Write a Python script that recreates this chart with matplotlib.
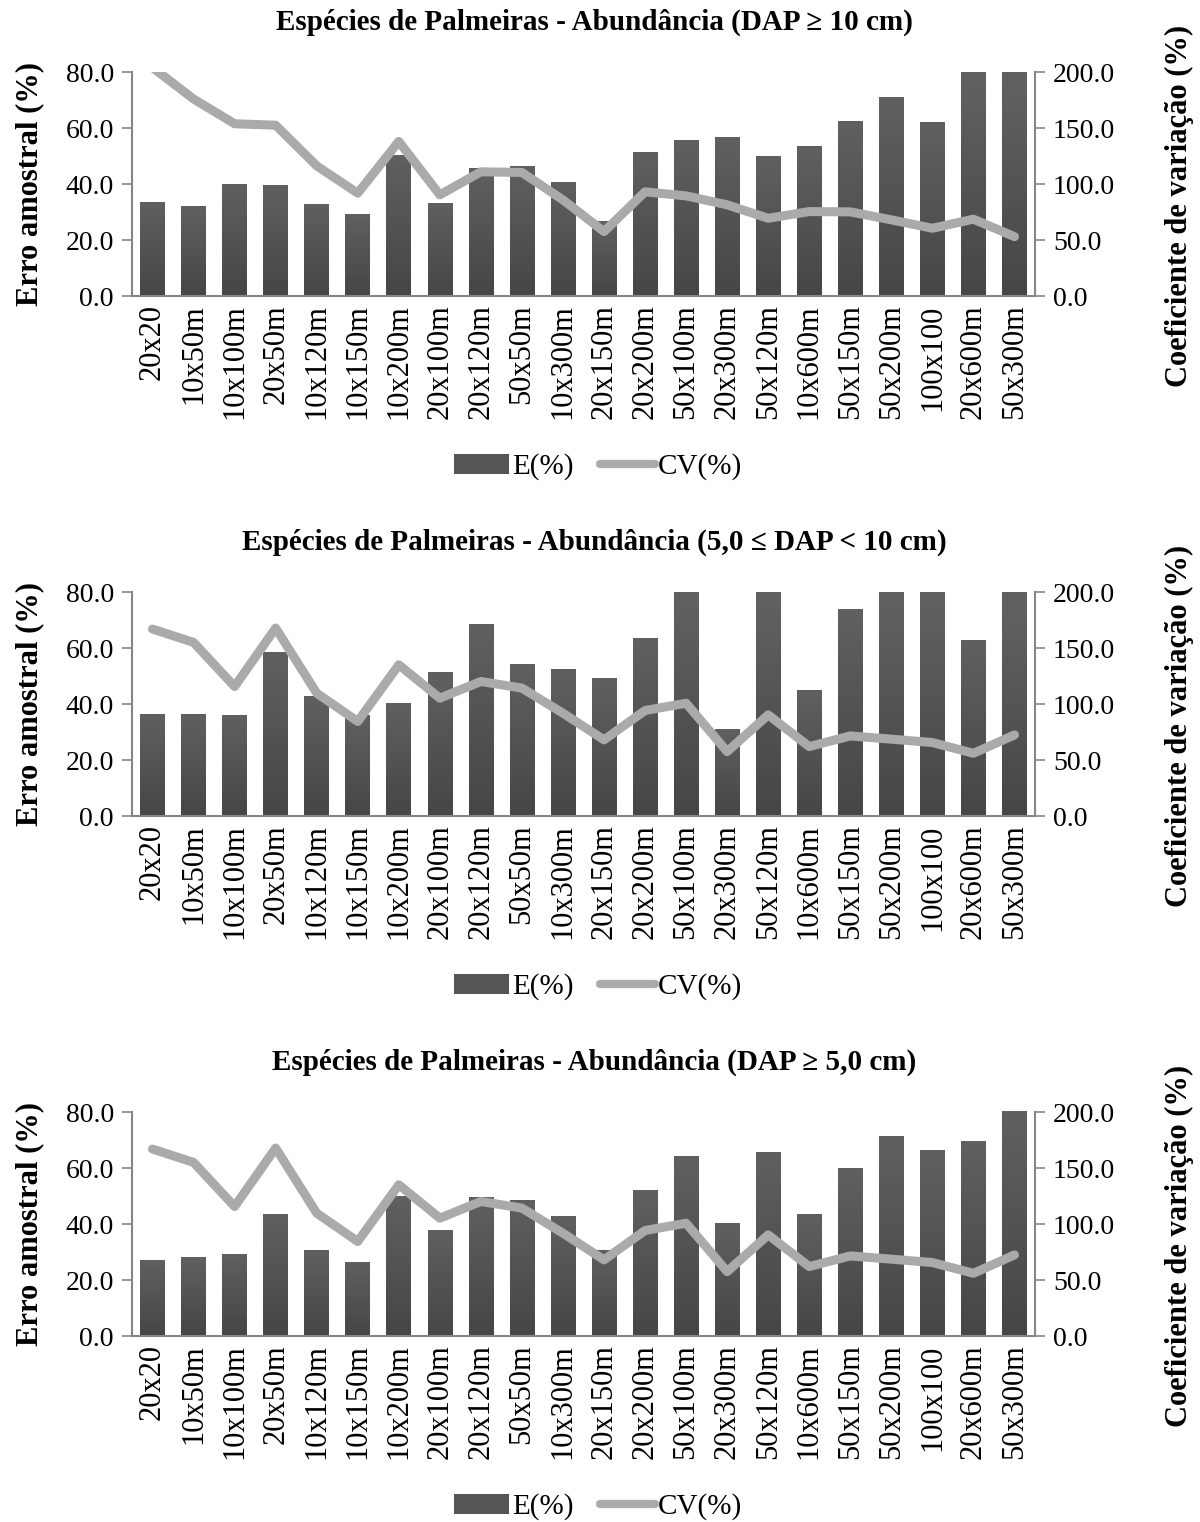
import numpy as np
import matplotlib.pyplot as plt
from matplotlib.patches import Patch
from matplotlib.lines import Line2D
from matplotlib.colors import LinearSegmentedColormap

plt.rcParams['font.family'] = ['Liberation Serif', 'DejaVu Serif']

categories = ['20x20', '10x50m', '10x100m', '20x50m', '10x120m', '10x150m',
              '10x200m', '20x100m', '20x120m', '50x50m', '10x300m', '20x150m',
              '20x200m', '50x100m', '20x300m', '50x120m', '10x600m', '50x150m',
              '50x200m', '100x100', '20x600m', '50x300m']

titles = ['Espécies de Palmeiras - Abundância (DAP ≥ 10 cm)',
          'Espécies de Palmeiras - Abundância (5,0 ≤ DAP < 10 cm)',
          'Espécies de Palmeiras - Abundância (DAP ≥ 5,0 cm)']

# E(%) - erro amostral (left axis)
e_dap10 = [33.6, 32.2, 40.1, 39.7, 32.9, 29.3, 50.4, 33.3, 45.8, 46.5, 40.8,
           26.8, 51.5, 55.8, 56.9, 50.1, 53.7, 62.6, 71.2, 62.2, 85.0, 88.0]
e_dap5_10 = [36.5, 36.5, 36.1, 58.4, 42.9, 36.1, 40.4, 51.5, 68.4, 54.4, 52.6,
             49.4, 63.7, 84.0, 31.1, 86.0, 45.1, 74.0, 85.0, 84.0, 63.0, 90.0]
e_dap5 = [27.2, 28.3, 29.3, 43.6, 30.8, 26.5, 50.1, 37.9, 49.7, 48.6, 42.9,
          30.8, 52.0, 64.4, 40.4, 65.8, 43.6, 60.1, 71.5, 66.5, 69.7, 80.5]

# CV(%) - coeficiente de variacao (right axis)
cv_dap10 = [204.0, 175.9, 153.8, 152.5, 116.2, 91.8, 138.0, 90.3, 110.9, 110.3,
            85.8, 57.5, 93.0, 89.4, 81.4, 69.4, 75.4, 75.1, 68.0, 60.5, 68.6, 53.0]
cv_dap5_10 = [166.9, 155.0, 115.6, 167.8, 109.7, 84.4, 135.0, 105.2, 120.1, 114.2,
              91.8, 68.0, 94.2, 100.7, 57.5, 90.3, 62.0, 71.5, 68.6, 65.6, 56.0, 72.4]
cv_dap5 = [166.9, 155.0, 115.6, 167.8, 109.7, 84.4, 135.0, 105.2, 120.1, 114.2,
           91.8, 68.0, 94.2, 100.7, 57.5, 90.3, 62.0, 71.5, 68.6, 65.6, 56.0, 72.4]

panels = [(titles[0], e_dap10, cv_dap10),
          (titles[1], e_dap5_10, cv_dap5_10),
          (titles[2], e_dap5, cv_dap5)]

W, H = 1200, 1522
fig = plt.figure(figsize=(W / 100, H / 100), dpi=100)

axes_top = [72, 592, 1112]   # pixel rows of plot top
axes_h = 224
left_px, right_px = 132, 1035

spine_col = '#868686'
line_col = '#aaaaaa'
bar_col = '#555555'
fs = 20       # horizontal text
fs_rot = 22   # rotated text (looks taller in the original)

gradient = np.linspace(0, 1, 64).reshape(-1, 1)
bar_cmap = LinearSegmentedColormap.from_list('bar', ['#464646', '#606060'])

for (title, e_vals, cv_vals), top in zip(panels, axes_top):
    bottom = top + axes_h
    ax = fig.add_axes([left_px / W, 1 - bottom / H,
                       (right_px - left_px) / W, axes_h / H])
    x = np.arange(len(categories))
    ymax = 80
    bars = ax.bar(x, e_vals, width=0.6, color=bar_col, zorder=2)
    for b in bars:
        x0, w, h = b.get_x(), b.get_width(), b.get_height()
        top_h = min(h, ymax)
        im = ax.imshow(gradient, extent=(x0, x0 + w, 0, top_h), origin='lower',
                       cmap=bar_cmap, vmin=0, vmax=top_h / h, aspect='auto',
                       zorder=2.1)
        im.set_clip_path(b)
    ax.set_xlim(-0.5, len(categories) - 0.5)
    ax.set_ylim(0, ymax)
    ax.set_yticks([0, 20, 40, 60, 80])
    ax.set_yticklabels([f'{v:.1f}' for v in [0, 20, 40, 60, 80]], fontsize=fs)
    ax.set_xticks(x)
    ax.set_xticklabels(categories, rotation=90, fontsize=fs_rot)
    ax.tick_params(axis='x', length=0, pad=6)
    ax.tick_params(axis='y', length=7, width=1.2, color=spine_col, pad=6)
    for s in ['top', 'right']:
        ax.spines[s].set_visible(False)
    for s in ['left', 'bottom']:
        ax.spines[s].set_color(spine_col)
        ax.spines[s].set_linewidth(1.5)

    ax2 = ax.twinx()
    ax2.plot(x, cv_vals, color=line_col, lw=6.5, solid_capstyle='round',
             solid_joinstyle='round', zorder=3)
    ax2.set_ylim(0, 200)
    ax2.set_yticks([0, 50, 100, 150, 200])
    ax2.set_yticklabels([f'{v:.1f}' for v in [0, 50, 100, 150, 200]], fontsize=fs)
    ax2.tick_params(axis='y', length=7, width=1.2, color=spine_col, pad=6)
    for s in ['top', 'left', 'bottom']:
        ax2.spines[s].set_visible(False)
    ax2.spines['right'].set_color(spine_col)
    ax2.spines['right'].set_linewidth(1.5)

    mid = top + axes_h / 2
    fig.text(0.495, 1 - (top - 50) / H, title, ha='center', va='center',
             fontsize=21, fontweight='bold')
    fig.text(30 / W, 1 - mid / H, 'Erro amostral (%)', rotation=90,
             ha='center', va='center', fontsize=fs_rot, fontweight='bold')
    fig.text(1179 / W, 1 - (mid + 22) / H, 'Coeficiente de variação (%)',
             rotation=90, ha='center', va='center', fontsize=fs_rot,
             fontweight='bold')

    handles = [Patch(facecolor=bar_col, edgecolor='none'),
               Line2D([], [], color=line_col, lw=6, solid_capstyle='round')]
    fig.legend(handles, ['E(%)', 'CV(%)'], loc='center',
               bbox_to_anchor=(598 / W, 1 - (top + 395) / H), ncol=2,
               frameon=False, fontsize=21, handlelength=1.9,
               handletextpad=0.1, columnspacing=0.9)

fig.savefig('out.png', dpi=100)
